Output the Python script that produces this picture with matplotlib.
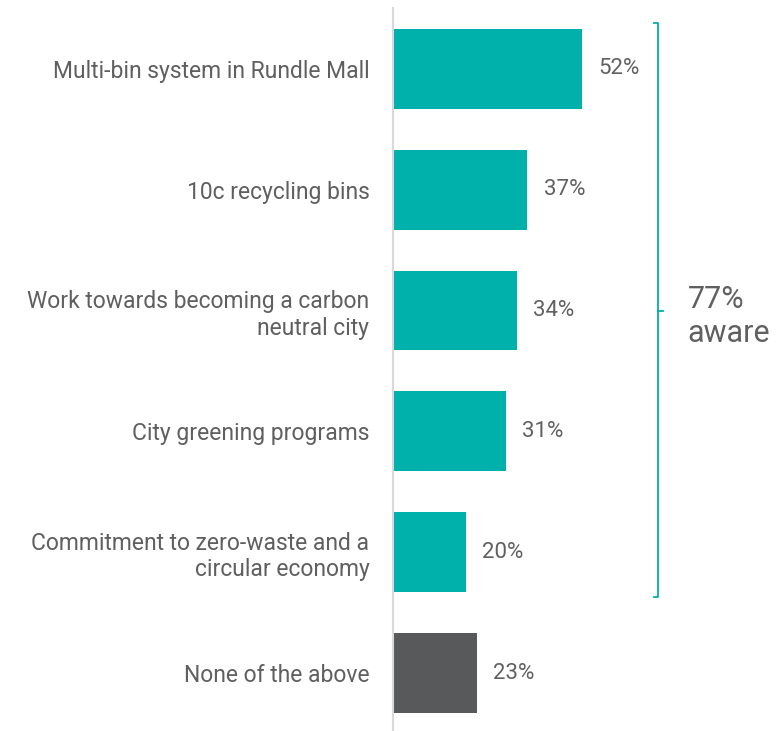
import matplotlib.pyplot as plt

TEAL = '#00B0AA'
DARK = '#58595B'
TEXT = '#595959'
plt.rcParams['font.family'] = ['Roboto', 'DejaVu Sans']

categories = [
    'Multi-bin system in Rundle Mall',
    '10c recycling bins',
    'Work towards becoming a carbon\nneutral city',
    'City greening programs',
    'Commitment to zero-waste and a\ncircular economy',
    'None of the above',
]
values = [52, 37, 34, 31, 20, 23]
colors = [TEAL, TEAL, TEAL, TEAL, TEAL, DARK]
aware_label = '77%\naware'

fig = plt.figure(figsize=(7.76, 7.31), dpi=100)
ax = fig.add_axes([393 / 776, 0, 383 / 776, 723 / 731])

pos = list(range(len(categories)))
ax.barh(pos, values, height=0.66, color=colors)

# value labels just past the end of each bar
for y, v in zip(pos, values):
    ax.text(v + 4.6, y, f'{v}%', va='center', ha='left', fontsize=16,
            color='#606060')

ax.set_xlim(0, 105.4)
ax.set_ylim(5.48, -0.504)
ax.set_yticks(pos)
ax.set_yticklabels(categories, fontsize=16.5, color='#5F5F5F', linespacing=1.2)
ax.tick_params(axis='y', length=0, pad=17)
ax.set_xticks([])

for side in ['top', 'right', 'bottom']:
    ax.spines[side].set_visible(False)
ax.spines['left'].set_color('#D9D9D9')
ax.spines['left'].set_linewidth(1.5)

# bracket grouping the awareness items
bx = 72.9
top, bottom = -0.38, 4.372
ax.plot([bx - 1.1, bx, bx, bx - 1.1], [top, top, bottom, bottom],
        color=TEAL, lw=1.3, clip_on=False)
ax.plot([bx, bx + 1.4], [2.0, 2.0], color=TEAL, lw=1.3, clip_on=False)
ax.text(bx + 8.2, 2.05, aware_label, va='center', ha='left', fontsize=22,
        color='#606060', linespacing=1.25)

plt.savefig('out.png', dpi=100)
